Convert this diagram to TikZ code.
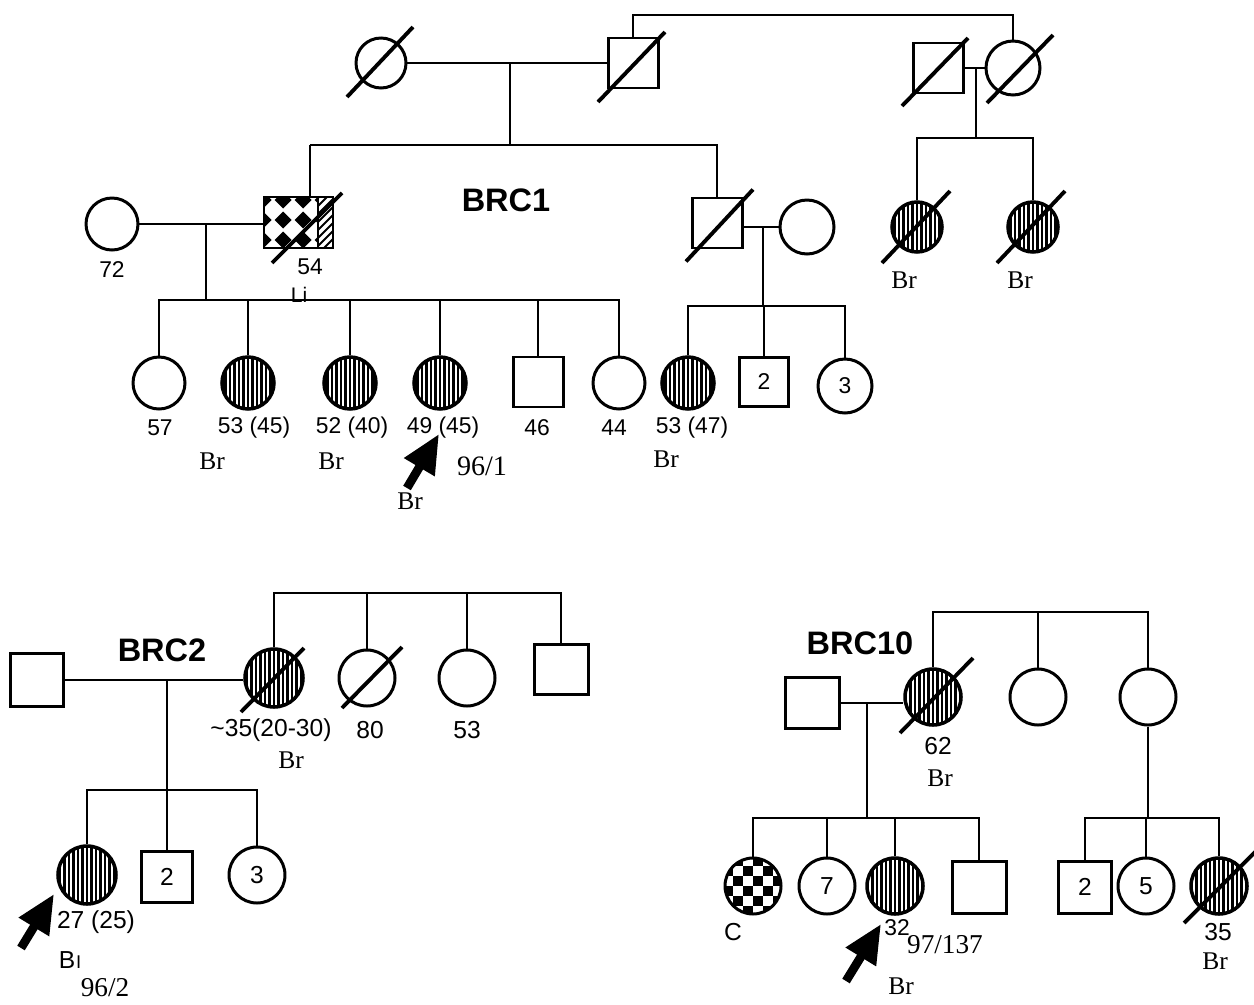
\documentclass[tikz,border=0pt]{standalone}
\usepackage{fontspec}
\setmainfont{Liberation Serif}
\setsansfont{Liberation Sans}
\usetikzlibrary{arrows.meta,calc}
\begin{document}
\begin{tikzpicture}[x=0.02cm,y=-0.02cm,
  conn/.style={line width=1.5pt},
  sym/.style={draw, line width=1.7pt, inner sep=0pt, font=\sffamily\fontsize{13}{13}\selectfont},
  fem/.style={sym, circle, minimum size=#1*0.02cm},
  fem/.default=52,
  mal/.style={sym, rectangle, minimum width=#1*0.02cm, minimum height=#1*0.02cm},
  mal/.default=50,
  hatch/.style={line width=2pt, path picture={\foreach \i in {-9,...,9} \draw[line width=1.35pt] ([xshift=\i*0.09cm]path picture bounding box.north) -- ([xshift=\i*0.09cm]path picture bounding box.south);}},
  checker/.style={path picture={
     \foreach \i in {-3,-1,1} \foreach \j in {-3,-1,1} \fill ([xshift=\i*0.2cm,yshift=\j*0.2cm]path picture bounding box.center) rectangle ++(0.2cm,0.2cm);
     \foreach \i in {-2,0,2} \foreach \j in {-2,0,2} \fill ([xshift=\i*0.2cm,yshift=\j*0.2cm]path picture bounding box.center) rectangle ++(0.2cm,0.2cm);}},
  slashln/.style={line width=2.2pt},
  lbl/.style={font=\sffamily\fontsize{13}{13}\selectfont, inner sep=0pt},
  lblb/.style={font=\sffamily\fontsize{14}{14}\selectfont, inner sep=0pt},
  ser/.style={font=\fontsize{14.5}{14.5}\selectfont, inner sep=0pt},
  serbig/.style={font=\fontsize{16}{16}\selectfont, inner sep=0pt},
  ttl/.style={font=\sffamily\bfseries\fontsize{18.5}{18.5}\selectfont, inner sep=0pt},
  bigarrow/.style={line width=5pt, -{Triangle[length=22pt,width=19pt]}}
]
\useasboundingbox (0,0) rectangle (1254,1004);

% ================= BRC1 =================
\node[fem=50] (a1) at (381,63) {};
\node[mal] (a2) at (633,63) {};
\node[mal] (a3) at (938,68) {};
\node[fem=54] (a4) at (1013,68) {};
\coordinate (t1) at (633,15);
\draw[conn] (a1.east) -- (a2.west);
\draw[conn] (a2.north) -- (t1) -| (a4.north);
\draw[conn] (a3.east) -- (a4.west);
\coordinate (m1) at (510,63);
\coordinate (j1) at (510,145);
\draw[conn] (m1) -- (j1);
\coordinate (m2) at (976,68);
\coordinate (j2) at (976,138);
\draw[conn] (m2) -- (j2);

\node[fem=50,hatch] (b1) at (917,227) {};
\node[fem=50,hatch] (b2) at (1033,227) {};
\draw[conn] (b1.north) -- (b1.north |- j2) -- (b2.north |- j2) -- (b2.north);

% generation 2
\node[fem] (c1) at (112,224) {};
\begin{scope}
  \clip (264,197) rectangle (333,248);
  \foreach \cx in {263,283,303,323} \foreach \cy in {200,220,240}
    \fill (\cx,\cy-8.5) -- (\cx+8.5,\cy) -- (\cx,\cy+8.5) -- (\cx-8.5,\cy) -- cycle;
  \fill[white] (318,197) rectangle (333,248);
  \clip (318,197) rectangle (333,248);
  \foreach \k in {0,...,10} \draw[line width=1.2pt] (240+\k*8,260) -- ++(70,-70);
\end{scope}
\node[draw, line width=1.7pt, minimum width=69*0.02cm, minimum height=51*0.02cm, inner sep=0pt] (c2) at (298.5,222.5) {};
\draw[line width=1.2pt] (318,197) -- (318,248);
\node[mal] (c3) at (717,223) {};
\node[fem=54] (c4) at (807,227) {};
\coordinate (c2n) at (310,197);
\draw[conn] (c1.east) -- (c1.east -| c2.west);
\draw[conn] (c3.east |- c4.west) -- (c4.west);
\draw[conn] (j1 -| c2n) -- (c2n);
\draw[conn] (j1 -| c2n) -- (j1 -| c3.north) -- (c3.north);
\coordinate (m3) at (206,224);
\coordinate (j3) at (206,300);
\draw[conn] (m3) -- (j3);
\coordinate (m4) at (763,227);
\coordinate (j4) at (763,306);
\draw[conn] (m4) -- (j4);

% generation 3
\node[fem] (d1) at (159,383) {};
\node[fem,hatch] (d2) at (248,383) {};
\node[fem,hatch] (d3) at (350,383) {};
\node[fem,hatch] (d4) at (440,383) {};
\node[mal] (d5) at (538,382) {};
\node[fem] (d6) at (619,383) {};
\node[fem,hatch] (d7) at (688,383) {};
\node[mal=49] (d8) at (764,382) {2};
\node[fem=54] (d9) at (845,386) {3};
\draw[conn] (d1.north) -- (d1.north |- j3) -- (d6.north |- j3) -- (d6.north);
\foreach \n in {d2,d3,d4,d5} \draw[conn] (\n.north) -- (\n.north |- j3);
\draw[conn] (d7.north) -- (d7.north |- j4) -- (d9.north |- j4) -- (d9.north);
\draw[conn] (d8.north) -- (d8.north |- j4);

% slashes BRC1
\draw[slashln] ($(a1)+(-34,34)$) -- ($(a1)+(32,-36)$);
\draw[slashln] ($(a2)+(-35,39)$) -- ($(a2)+(32,-31)$);
\draw[slashln] ($(a3)+(-36,38)$) -- ($(a3)+(30,-30)$);
\draw[slashln] ($(a4)+(-26,35)$) -- ($(a4)+(40,-33)$);
\draw[slashln] ($(b1)+(-35,36)$) -- ($(b1)+(33,-36)$);
\draw[slashln] ($(b2)+(-36,36)$) -- ($(b2)+(32,-36)$);
\draw[slashln] ($(c2)+(-26.5,40.5)$) -- ($(c2)+(43.5,-29.5)$);
\draw[slashln] ($(c3)+(-31,38.5)$) -- ($(c3)+(36,-33.5)$);

% labels BRC1
\node[ttl] (brc1) at (506,200) {BRC1};
\node[lbl] (l72) at (112,270) {72};
\node[lbl] (l54) at (310,267) {54};
\node[font=\sffamily\fontsize{12}{12}\selectfont, inner sep=0pt] (lli) at (299,295) {Li};
\node[ser] (lbr1) at (904,280) {Br};
\node[ser] (lbr2) at (1020,280) {Br};
\node[lbl] (l57) at (160,428) {57};
\node[lbl] (l53) at (254,428) {53 (45)};
\node[lbl] (l52) at (352,428) {52 (40)};
\node[lbl] (l49) at (443,428) {49 (45)};
\node[lbl] (l46) at (537,428) {46};
\node[lbl] (l44) at (614,428) {44};
\node[lbl] (l5347) at (692,428) {53 (47)};
\node[ser] (lbr3) at (212,461) {Br};
\node[ser] (lbr4) at (331,461) {Br};
\node[ser] (lbr5) at (410,501) {Br};
\node[ser] (lbr6) at (666,459) {Br};
\node[serbig] (l961) at (482,466) {96/1};
\coordinate (ar1t) at (407,488);
\coordinate (ar1h) at (439,434);
\draw[bigarrow] (ar1t) -- (ar1h);

% ================= BRC2 =================
\node[ttl] (brc2) at (162,650) {BRC2};
\node[mal=53] (e1) at (37,680) {};
\node[fem=58,hatch] (e2) at (274,678) {};
\node[fem=56] (e3) at (367,678) {};
\node[fem=56] (e4) at (467,678) {};
\node[sym, rectangle, minimum width=54*0.02cm, minimum height=50*0.02cm] (e5) at (561,669) {};
\coordinate (j5) at (273,593);
\draw[conn] (e2.north) -- (e2.north |- j5) -- (e5.north |- j5) -- (e5.north);
\draw[conn] (e3.north) -- (e3.north |- j5);
\draw[conn] (e4.north) -- (e4.north |- j5);
\draw[conn] (e1.east) -- (e1.east -| e2.west);
\coordinate (m5) at (167,680);
\coordinate (j6) at (167,790);
\draw[conn] (m5) -- (j6);
\node[fem=58,hatch] (f1) at (87,875) {};
\node[sym, rectangle, minimum width=51*0.02cm, minimum height=51*0.02cm, font=\sffamily\fontsize{14}{14}\selectfont] (f2) at (167,877) {2};
\node[fem=56, font=\sffamily\fontsize{14}{14}\selectfont] (f3) at (257,875) {3};
\draw[conn] (f1.north) -- (f1.north |- j6) -- (f3.north |- j6) -- (f3.north);
\draw[conn] (f2.north) -- (f2.north |- j6);
\draw[slashln] ($(e2)+(-33,34)$) -- ($(e2)+(30,-30)$);
\draw[slashln] ($(e3)+(-25,30)$) -- ($(e3)+(35,-31)$);
\node[lblb] (l35) at (271,730) {\textasciitilde35(20-30)};
\node[ser] (lbr7) at (291,760) {Br};
\node[lblb] (l80) at (370,730) {80};
\node[lblb] (l53b) at (467,730) {53};
\node[lblb] (l27) at (96,922) {27 (25)};
\node[font=\sffamily\fontsize{14}{14}\selectfont, inner sep=0pt] (lbi) at (70,960) {B\kern0.5pt{\fontsize{10.5}{10.5}\selectfont\raisebox{-0.5pt}{I}}};
\node[font=\fontsize{15.5}{15.5}\selectfont, inner sep=0pt] (l962) at (105,988) {96/2};
\coordinate (ar2t) at (21,948);
\coordinate (ar2h) at (54,894);
\draw[bigarrow] (ar2t) -- (ar2h);

% ================= BRC10 =================
\node[ttl] (brc10) at (860,643) {BRC10};
\node[sym, rectangle, minimum width=54*0.02cm, minimum height=51*0.02cm] (g1) at (812,703) {};
\node[fem=56,hatch] (g2) at (933,697) {};
\node[fem=56] (g3) at (1038,697) {};
\node[fem=56] (g4) at (1148,697) {};
\coordinate (j7) at (933,612);
\draw[conn] (g2.north) -- (g2.north |- j7) -- (g4.north |- j7) -- (g4.north);
\draw[conn] (g3.north) -- (g3.north |- j7);
\draw[conn] (g1.east) -- (g1.east -| g2.west);
\coordinate (m6) at (867,703);
\coordinate (j8) at (867,818);
\draw[conn] (m6) -- (j8);
\coordinate (j9) at (1148,818);
\draw[conn] (g4.south) -- (j9);

\node[fem=56,checker] (h1) at (753,886) {};
\node[fem=56, font=\sffamily\fontsize{14}{14}\selectfont] (h2) at (827,886) {7};
\node[fem=56,hatch] (h3) at (895,886) {};
\node[sym, rectangle, minimum width=54*0.02cm, minimum height=52*0.02cm] (h4) at (979,887) {};
\draw[conn] (h1.north) -- (h1.north |- j8) -- (h4.north |- j8) -- (h4.north);
\draw[conn] (h2.north) -- (h2.north |- j8);
\draw[conn] (h3.north) -- (h3.north |- j8);

\node[sym, rectangle, minimum width=53*0.02cm, minimum height=52*0.02cm, font=\sffamily\fontsize{14}{14}\selectfont] (i1) at (1085,887) {2};
\node[fem=56, font=\sffamily\fontsize{14}{14}\selectfont] (i2) at (1146,886) {5};
\node[fem=56,hatch] (i3) at (1219,886) {};
\draw[conn] (i1.north) -- (i1.north |- j9) -- (i3.north |- j9) -- (i3.north);
\draw[conn] (i2.north) -- (i2.north |- j9);

\draw[slashln] ($(g2)+(-33,36)$) -- ($(g2)+(40,-39)$);
\draw[slashln] ($(i3)+(-35,37)$) -- ($(i3)+(40,-38)$);

\node[lblb] (l62) at (938,746) {62};
\node[ser] (lbr8) at (940,778) {Br};
\node[lblb] (lc) at (733,932) {C};
\node[font=\sffamily\fontsize{13}{13}\selectfont, inner sep=0pt] (l32) at (897,928) {32};
\node[font=\fontsize{15.5}{15.5}\selectfont, inner sep=0pt] (l97) at (945,945) {97/137};
\node[ser] (lbr9) at (901,986) {Br};
\node[lblb] (l35b) at (1218,932) {35};
\node[ser] (lbr10) at (1215,961) {Br};
\coordinate (ar3t) at (846,981);
\coordinate (ar3h) at (881,924);
\draw[bigarrow] (ar3t) -- (ar3h);
\end{tikzpicture}
\end{document}
